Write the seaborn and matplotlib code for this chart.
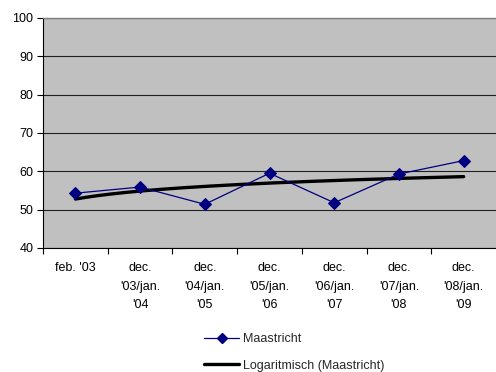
import numpy as np
import pandas as pd
import matplotlib
matplotlib.use("Agg")
import matplotlib.pyplot as plt
from matplotlib.lines import Line2D
import seaborn as sns

categories = ["feb. '03", "dec.\n'03/jan.\n'04", "dec.\n'04/jan.\n'05", "dec.\n'05/jan.\n'06",
              "dec.\n'06/jan.\n'07", "dec.\n'07/jan.\n'08", "dec.\n'08/jan.\n'09"]
maastricht = [54.3, 55.9, 51.4, 59.5, 51.8, 59.3, 62.8]
y_ticks = [40, 50, 60, 70, 80, 90, 100]

sns.set_theme(style="white")
plt.rcParams["font.family"] = ["Liberation Sans", "DejaVu Sans"]

fig = plt.figure(figsize=(4.96, 3.72), dpi=100)
ax = fig.add_axes([43 / 496, 124 / 372, 453 / 496, 230 / 372])
ax.set_facecolor("#C0C0C0")

pos = np.arange(len(categories))
df = pd.DataFrame({"pos": pos, "value": maastricht})

# logarithmic trend line fitted on the category index (1..n)
a, b = np.polyfit(np.log(pos + 1), np.asarray(maastricht), 1)
fine = np.linspace(0, len(categories) - 1, 200)
trend = pd.DataFrame({"pos": fine, "value": a * np.log(fine + 1) + b})

sns.lineplot(data=trend, x="pos", y="value", ax=ax, color="black", linewidth=2.4, zorder=3)
sns.lineplot(data=df, x="pos", y="value", ax=ax, color="#000080", linewidth=0.9,
             marker="D", markersize=6, markeredgecolor="#000080", zorder=4)

ax.set_xlim(-0.5, len(categories) - 0.5)
ax.set_ylim(40, 100)
ax.set_yticks(y_ticks)
ax.yaxis.grid(True, color="#202020", linewidth=0.8)
ax.set_axisbelow(True)
ax.set_xlabel("")
ax.set_ylabel("")

ax.set_xticks(pos)
ax.set_xticklabels(categories, fontsize=9, linespacing=1.75, color="black")
ax.set_xticks(np.arange(-0.5, len(categories) - 1, 1.0), minor=True)
ax.tick_params(axis="x", which="major", length=0, pad=10)
ax.tick_params(axis="x", which="minor", direction="out", length=4, width=0.8, color="black", bottom=True)
ax.tick_params(axis="y", direction="out", length=4, width=0.8, color="black", left=True,
               labelsize=9, pad=3, labelcolor="black")

for side in ["left", "bottom"]:
    ax.spines[side].set_color("black")
    ax.spines[side].set_linewidth(0.8)
ax.spines["top"].set_color("#808080")
ax.spines["top"].set_linewidth(1.0)
ax.spines["right"].set_visible(False)

handles = [
    Line2D([], [], color="#000080", linewidth=0.9, marker="D", markersize=5,
           markeredgecolor="#000080", markevery=[1]),
    Line2D([], [], color="black", linewidth=2.4),
]
# middle-marker handle: three points so the diamond sits in the centre
handles[0].set_data([0, 0.5, 1], [0, 0, 0])
fig.legend(handles=handles, labels=["Maastricht", "Logaritmisch (Maastricht)"],
           loc="upper left", bbox_to_anchor=(193 / 496, 1 - 322 / 372), frameon=False,
           fontsize=9, handlelength=2.8, handletextpad=0.3, labelspacing=1.15)

fig.savefig("out.png", dpi=100)
